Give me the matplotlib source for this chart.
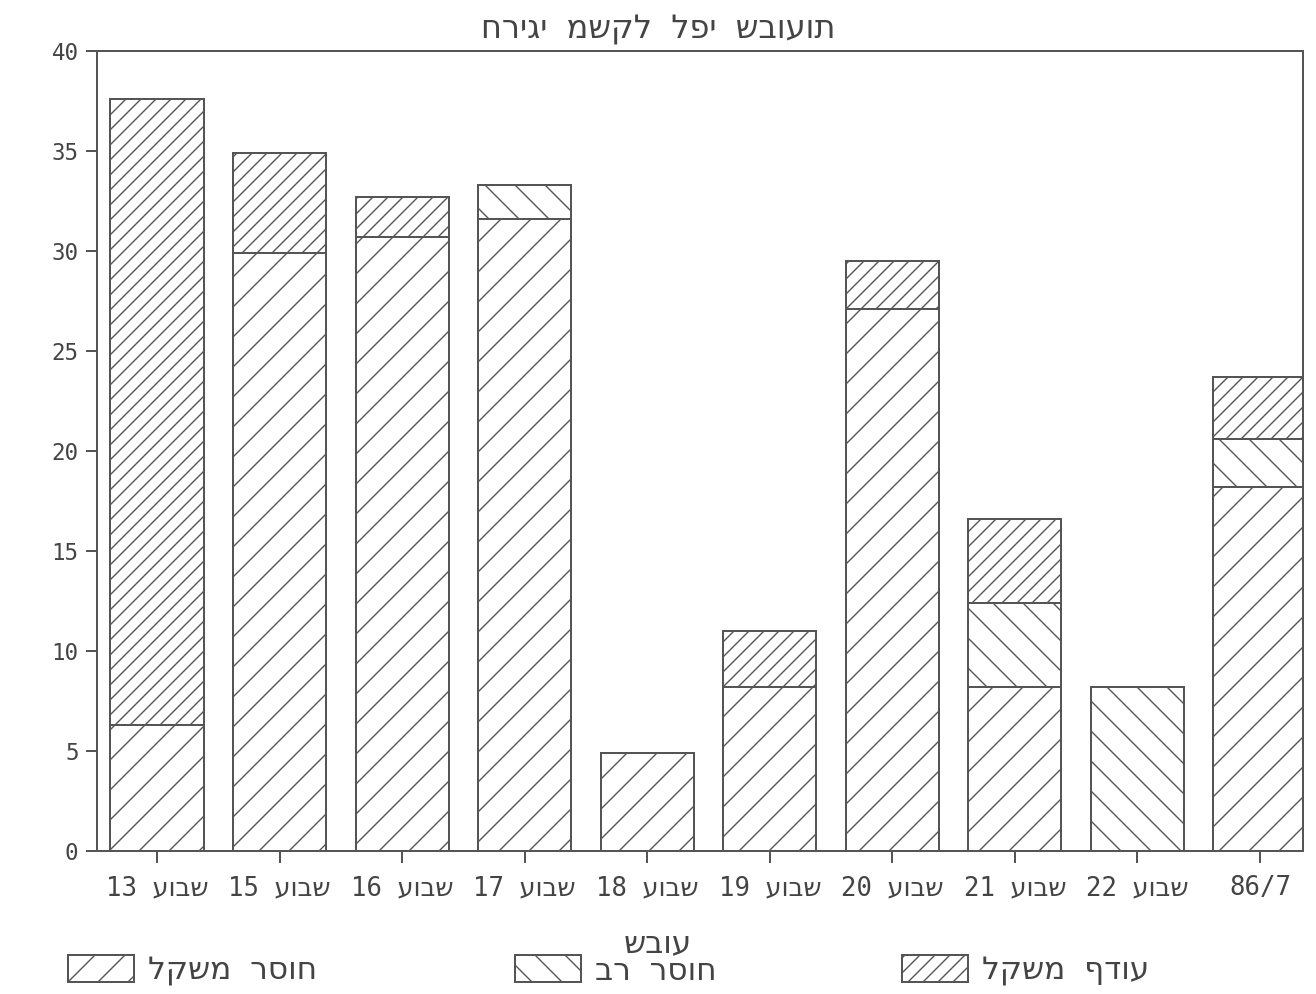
import matplotlib
matplotlib.use("Agg")
import matplotlib.pyplot as plt
import matplotlib.patches as mpatches
import numpy as np

# data
weeks = ["13", "15", "16", "17", "18", "19", "20", "21", "22", "86/7"]
underweight = [6.3, 29.9, 30.7, 31.6, 4.9, 8.2, 27.1, 8.2, 0, 18.2]
severe = [0, 0, 0, 1.7, 0, 0, 0, 4.2, 8.2, 2.4]
overweight = [31.3, 5.0, 2.0, 0, 0, 2.8, 2.4, 4.2, 0, 3.1]

title = "חריגי משקל לפי שבועות"
xtitle = "שבוע"
week_word = "שבוע"
names = ["חוסר משקל", "חוסר רב", "עודף משקל"]
hatches = ["//", "\\\\", "////"]

line = "#555555"
txt = "#444444"

plt.rcParams['font.family'] = ['DejaVu Sans Mono', 'DejaVu Sans']
plt.rcParams['hatch.color'] = line
plt.rcParams['hatch.linewidth'] = 0.55

fig = plt.figure(figsize=(1316 / 180, 994 / 180), dpi=180)
ax = fig.add_axes([0.0737, 0.1439, 0.9163, 0.8048])

x = np.arange(len(weeks))
w = 0.76
b1 = np.array(underweight)
b2 = b1 + np.array(severe)

ax.bar(x, underweight, w, color="white", edgecolor=line, linewidth=0.8, hatch=hatches[0])
ax.bar(x, severe, w, bottom=b1, color="white", edgecolor=line, linewidth=0.8, hatch=hatches[1])
ax.bar(x, overweight, w, bottom=b2, color="white", edgecolor=line, linewidth=0.8, hatch=hatches[2])

ax.set_xlim(-0.49, 9.35)
ax.set_ylim(0, 40)
ax.set_yticks(range(0, 41, 5))

# hebrew is drawn right to left, matplotlib draws left to right
labels = [f"{n} " + week_word[::-1] for n in weeks[:-1]] + [weeks[-1]]
ax.set_xticks(x)
ax.set_xticklabels(labels, fontsize=10.3)

for s in ax.spines.values():
    s.set_color(line)
    s.set_linewidth(0.8)
ax.tick_params(axis="both", colors=line, labelcolor=txt, width=0.8)
ax.tick_params(axis="y", length=4.4, pad=3, labelsize=9)
ax.tick_params(axis="x", length=4.8, pad=5)

fig.suptitle(title, x=0.5, y=0.985, fontsize=12.8, color=txt)
fig.text(0.5, 0.051, xtitle, ha="center", va="center", fontsize=12.5, color=txt)

# three legend entries along the bottom
xs = [68 / 1316, 515 / 1316, 902 / 1316]
for i in range(3):
    h = mpatches.Patch(facecolor="white", edgecolor=line, linewidth=0.8,
                       hatch=hatches[i], label=names[i][::-1])
    leg = fig.legend(handles=[h], loc="center left", bbox_to_anchor=(xs[i], 0.0237),
                     frameon=False, fontsize=12.5, handlelength=2.1, handleheight=0.95,
                     handletextpad=0.45, borderpad=0, borderaxespad=0, labelcolor=txt)

fig.savefig("out.png", dpi=180, facecolor="white")
